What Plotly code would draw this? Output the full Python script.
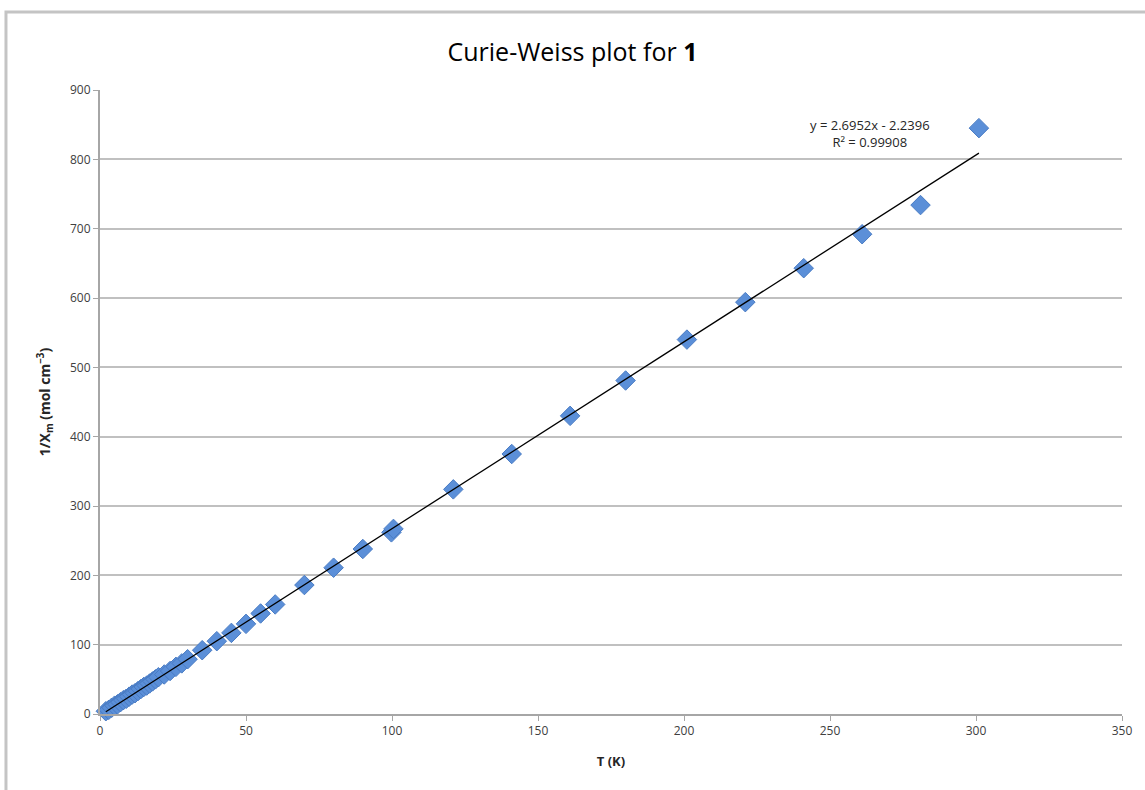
import plotly.graph_objects as go

# Data
T_K = [2, 3, 4, 5, 6, 7, 8, 9, 10, 11, 12, 13, 14, 15, 16, 17, 18, 19, 20,
       22, 24, 26, 28, 30, 35, 40, 45, 50, 55, 60, 70, 80, 90, 99.8, 100.5,
       121, 141, 161, 180, 201, 221, 241, 261, 281, 301]
inv_chi = [4, 6, 9, 12, 14, 17, 20, 22, 25, 28, 30, 33, 36, 39, 41, 44, 47, 50, 53,
           57, 62, 68, 73, 79, 92, 105, 117, 130, 145, 158, 186, 211, 238, 262, 267,
           324, 375, 430, 481, 540, 594, 643, 692, 734, 845]

fit_slope = 2.6952
fit_intercept = -2.2396
fit_x = [2, 301]
fit_y = [fit_slope * v + fit_intercept for v in fit_x]

x_ticks = [0, 50, 100, 150, 200, 250, 300, 350]
y_ticks = [0, 100, 200, 300, 400, 500, 600, 700, 800, 900]

FONT = "Open Sans, Liberation Sans, sans-serif"

fig = go.Figure()
fig.add_trace(go.Scatter(
    x=T_K, y=inv_chi, mode="markers",
    marker=dict(symbol="diamond", size=15, color="#5B8FD8",
                line=dict(color="#4A7CC4", width=1)),
    showlegend=False, cliponaxis=False))
fig.add_trace(go.Scatter(
    x=fit_x, y=fit_y, mode="lines",
    line=dict(color="black", width=1.3), showlegend=False))

axis_font = dict(family=FONT, size=12, color="#404040")

fig.update_layout(
    width=1145, height=790,
    margin=dict(l=100, r=23, t=90, b=76),
    paper_bgcolor="white", plot_bgcolor="white",
    title=dict(text="Curie-Weiss plot for <b>1</b>", x=0.5, xanchor="center",
               y=1 - 52 / 790, yanchor="middle",
               font=dict(family=FONT, size=25, color="black")),
    xaxis=dict(range=[0, 350], tickvals=x_ticks, showgrid=False, zeroline=False,
               showline=True, linecolor="#a6a6a6", linewidth=2,
               ticks="outside", ticklen=5, tickcolor="#a6a6a6", tickwidth=1,
               tickfont=axis_font,
               title=dict(text="<b>T (K)</b>", standoff=18,
                          font=dict(family=FONT, size=13, color="#262626"))),
    yaxis=dict(range=[0, 900], tickvals=y_ticks, showgrid=True, gridcolor="#c0c0c0", gridwidth=2,
               zeroline=False, showline=True, linecolor="#a6a6a6", linewidth=2,
               ticks="outside", ticklen=5, tickcolor="#a6a6a6", tickwidth=1,
               tickfont=axis_font,
               title=dict(text="<b>1/X<sub>m</sub> (mol cm<sup>−3</sup>)</b>", standoff=16,
                          font=dict(family=FONT, size=14, color="#262626"))),
    annotations=[dict(xref="paper", yref="paper", x=(870 - 100) / 1022, y=(714 - 133) / 624,
                      xanchor="center", yanchor="middle",
                      text="y = 2.6952x - 2.2396<br>R² = 0.99908", showarrow=False,
                      font=dict(family=FONT, size=13, color="#262626"),
                      align="center")],
    shapes=[dict(type="path", xref="paper", yref="paper",
                 path="M -0.092,-0.3 L -0.092,1.125 L 1.2,1.125",
                 line=dict(color="#c4c4c4", width=3))],
)

fig.write_html("out.html")
